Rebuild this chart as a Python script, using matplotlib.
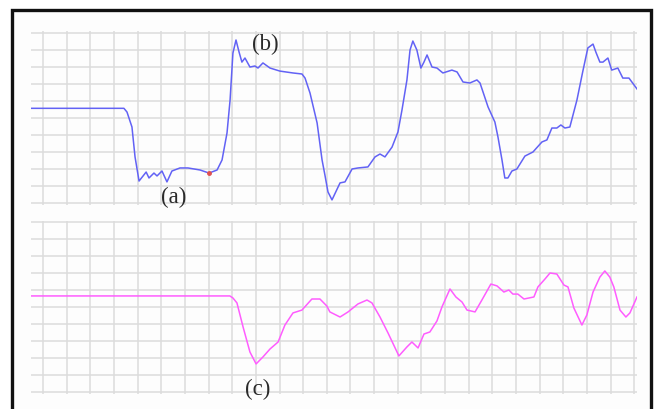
import matplotlib
matplotlib.use("Agg")
import matplotlib.pyplot as plt
from matplotlib.patches import Rectangle

# ---- data (grid units) ----
blue_x = [-0.51, 3.42, 3.55, 3.76, 3.89, 4.06, 4.36, 4.48, 4.69, 4.82, 5.03, 5.24, 5.45, 5.79, 6.13,
          6.64, 7.02, 7.36, 7.57, 7.78, 7.91, 8.03, 8.16, 8.29, 8.41, 8.54, 8.75, 8.96, 9.09, 9.30,
          9.60, 10.02, 10.57, 10.95, 11.08, 11.29, 11.59, 11.80, 11.92, 12.05, 12.22, 12.56, 12.77,
          13.07, 13.32, 13.74, 14.04, 14.25, 14.46, 14.76, 15.01, 15.18, 15.39, 15.52, 15.64, 15.81,
          15.98, 16.11, 16.24, 16.45, 16.66, 16.91, 17.29, 17.51, 17.76, 18.05, 18.35, 18.48, 18.82,
          19.11, 19.24, 19.41, 19.53, 19.66, 19.83, 20.04, 20.38, 20.72, 21.10, 21.31, 21.52, 21.73,
          21.90, 22.07, 22.28, 22.58, 22.83, 23.04, 23.26, 23.38, 23.55, 23.68, 23.89, 24.05, 24.31,
          24.52, 24.78, 25.12]
blue_y = [5.57, 5.57, 5.35, 4.47, 2.71, 1.29, 1.82, 1.47, 1.76, 1.59, 1.88, 1.24, 1.88, 2.06, 2.06,
          1.94, 1.76, 1.94, 2.53, 4.12, 6.06, 8.82, 9.59, 8.88, 8.29, 8.53, 8.00, 8.06, 7.94, 8.24,
          7.94, 7.76, 7.65, 7.59, 7.35, 6.47, 4.71, 2.53, 1.65, 0.65, 0.18, 1.18, 1.24,
          2.00, 2.06, 2.12, 2.71, 2.88, 2.71, 3.29, 4.18, 5.47, 7.24, 9.00, 9.53, 9.00,
          7.94, 8.29, 8.71, 8.00, 7.94, 7.65, 7.82, 7.71, 7.12, 7.06, 7.24, 7.06, 5.65,
          4.76, 3.88, 2.53, 1.47, 1.47, 1.88, 2.00, 2.76, 3.00, 3.59, 3.71, 4.41, 4.41,
          4.59, 4.41, 4.47, 6.06, 7.76, 9.12, 9.35, 8.88, 8.29, 8.29, 8.53, 7.82, 7.94,
          7.35, 7.35, 6.71]

pink_x = [-0.51, 7.90, 8.03, 8.20, 8.46, 8.75, 9.01, 9.30, 9.60, 9.94, 10.23, 10.57, 10.95, 11.37,
          11.71, 12.00, 12.13, 12.56, 12.90, 13.32, 13.70, 13.91, 14.25, 14.59, 15.05, 15.39, 15.60,
          15.86, 16.11, 16.36, 16.66, 16.87, 17.21, 17.46, 17.72, 17.93, 18.27, 18.56, 18.94, 19.20,
          19.49, 19.70, 19.87, 20.08, 20.34, 20.76, 20.93, 21.23, 21.44, 21.73, 22.03, 22.20, 22.45,
          22.79, 23.00, 23.26, 23.55, 23.76, 23.97, 24.14, 24.40, 24.65, 24.82, 25.12]
pink_y = [5.65, 5.65, 5.53, 5.24, 3.82, 2.35, 1.65, 2.06, 2.53, 2.94, 3.94, 4.65, 4.82, 5.47,
          5.47, 5.06, 4.71, 4.41, 4.71, 5.18, 5.41, 5.24, 4.41, 3.47, 2.12, 2.65, 2.94,
          2.59, 3.41, 3.53, 4.18, 5.00, 6.06, 5.59, 5.29, 4.82, 4.71, 5.41, 6.35, 6.24,
          5.88, 6.00, 5.76, 5.76, 5.47, 5.59, 6.18, 6.65, 7.00, 6.94, 6.29, 6.18, 4.94,
          3.94, 4.53, 5.88, 6.76, 7.12, 6.76, 6.18, 4.82, 4.41, 4.65, 5.59]

labels = ["(a)", "(b)", "(c)"]

W, H = 655, 409
fig = plt.figure(figsize=(W / 100, H / 100), dpi=100, facecolor="white")

# frame
fig.patches.append(Rectangle((12 / W, -0.05), (651 - 12) / W, (H - 10) / H + 0.05,
                             transform=fig.transFigure, facecolor="#fdfdfd",
                             edgecolor="#111111", linewidth=2.4, zorder=-5))


def make_ax(top_px, bot_px, ylim):
    ax = fig.add_axes([31 / W, 1 - bot_px / H, (637 - 31) / W, (bot_px - top_px) / H])
    ax.set_facecolor("none")
    ax.set_xlim(-0.51, 25.12)
    ax.set_ylim(*ylim)
    ax.set_xticks(range(0, 26))
    ax.set_yticks(range(0, 11))
    ax.tick_params(length=0, labelleft=False, labelbottom=False)
    for s in ax.spines.values():
        s.set_visible(False)
    ax.grid(True, color="#dcdcdc", linewidth=1.1)
    ax.set_axisbelow(True)
    return ax


ax1 = make_ax(31, 205, (-0.12, 10.12))
ax1.plot(blue_x, blue_y, color="#6262f5", linewidth=1.1, solid_joinstyle="round")
ax1.plot([blue_x[16]], [blue_y[16]], marker="o", markersize=2.5, color="#e05050")

ax2 = make_ax(221, 394, (-0.12, 10.06))
ax2.plot(pink_x, pink_y, color="#ff5cff", linewidth=1.1, solid_joinstyle="round")

font = dict(family=["Liberation Serif", "DejaVu Serif"], fontsize=16.5, color="#2a2a2a",
            ha="center", va="center")
ax1.text(5.53, 0.35, labels[0], **font)
ax1.text(9.39, 9.35, labels[1], **font)
ax2.text(9.09, 0.15, labels[2], **font)

fig.savefig("out.png", dpi=100, facecolor="white")
